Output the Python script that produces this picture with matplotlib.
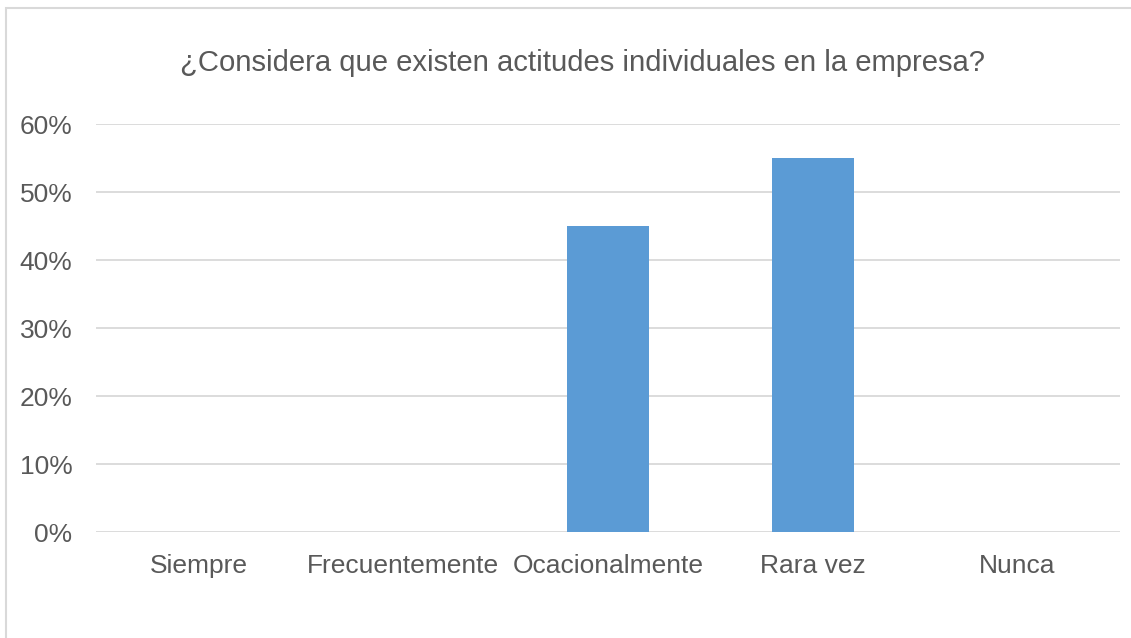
import matplotlib
matplotlib.use("Agg")
import matplotlib.pyplot as plt
from matplotlib.ticker import PercentFormatter
from matplotlib.patches import Rectangle

categories = ["Siempre", "Frecuentemente", "Ocacionalmente", "Rara vez", "Nunca"]
values = [0.0, 0.0, 0.45, 0.55, 0.0]
title = "¿Considera que existen actitudes individuales en la empresa?"

plt.rcParams["font.family"] = ["Liberation Sans", "DejaVu Sans"]
text_color = "#595959"
grid_color = "#D9D9D9"
bar_color = "#5B9BD5"

W, H = 1131, 638
fig = plt.figure(figsize=(W / 100, H / 100), dpi=100)

# chart frame (left and top edges visible)
fig.add_artist(Rectangle((6 / W, -0.1), 1.2, (H - 8) / H + 0.1, transform=fig.transFigure,
                         fill=False, edgecolor="#D9D9D9", linewidth=1.5))

ax = fig.add_axes([96 / W, 1 - 532 / H, (1120 - 96) / W, (532 - 124) / H])
x = range(len(categories))
ax.bar(x, values, width=0.4, color=bar_color, zorder=3)
ax.set_xlim(-0.5, len(categories) - 0.5)
ax.set_ylim(0, 0.6)
ax.set_yticks([i / 10 for i in range(7)])
ax.yaxis.set_major_formatter(PercentFormatter(1.0, decimals=0))
ax.set_xticks(list(x))
ax.set_xticklabels(categories)
ax.grid(axis="y", color=grid_color, linewidth=1.3, zorder=0)
for s in ax.spines.values():
    s.set_visible(False)
ax.tick_params(axis="both", length=0, labelsize=19, labelcolor=text_color)
ax.tick_params(axis="y", pad=17)
ax.tick_params(axis="x", pad=16)

fig.text(583 / W, 1 - 63 / H, title, ha="center", va="center", fontsize=21.1, color=text_color)

fig.savefig("out.png", dpi=100)
